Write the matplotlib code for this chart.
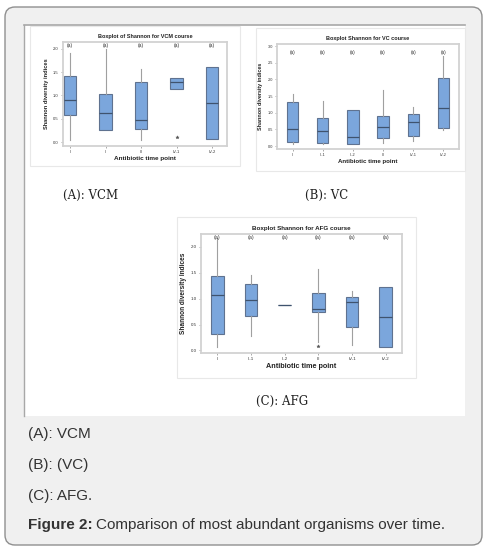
import matplotlib.pyplot as plt
from matplotlib.patches import FancyBboxPatch, Rectangle

W, H = 493, 557

# (A) VCM course
vcm_labels = ["I", "II", "III", "IV-1", "IV-2"]
vcm_q1 = [0.58, 0.26, 0.29, 1.15, 0.06]
vcm_med = [0.90, 0.62, 0.47, 1.29, 0.84]
vcm_q3 = [1.41, 1.03, 1.29, 1.38, 1.61]
vcm_lo = [0.04, 0.26, 0.05, 1.15, 0.06]
vcm_hi = [1.91, 2.00, 1.56, 1.38, 1.61]
vcm_out = [[], [], [], [0.11], []]

# (B) VC course
vc_labels = ["I", "II-1", "II-2", "III", "IV-1", "IV-2"]
vc_q1 = [0.11, 0.10, 0.05, 0.25, 0.30, 0.53]
vc_med = [0.50, 0.46, 0.27, 0.58, 0.72, 1.13]
vc_q3 = [1.31, 0.85, 1.07, 0.91, 0.95, 2.05]
vc_lo = [0.05, 0.05, 0.05, 0.08, 0.16, 0.48]
vc_hi = [1.56, 1.36, 1.07, 1.68, 1.18, 2.71]
vc_out = [[], [], [], [], [], []]

# (C) AFG course
afg_labels = ["I", "II-1", "II-2", "III", "IV-1", "IV-2"]
afg_q1 = [0.32, 0.67, 0.88, 0.74, 0.45, 0.06]
afg_med = [1.08, 0.97, 0.88, 0.81, 0.93, 0.64]
afg_q3 = [1.43, 1.28, 0.88, 1.11, 1.03, 1.22]
afg_lo = [0.06, 0.28, 0.88, 0.17, 0.10, 0.06]
afg_hi = [2.17, 1.46, 0.88, 1.57, 1.14, 1.22]
afg_out = [[], [], [], [0.08], [], []]

group_letter = "(a)"

BOX_FILL = "#7ba6dc"
BOX_EDGE = "#5f7290"
GRID_GREY = "#d2d2d2"
PLOT_FONT = "Liberation Sans"

fig = plt.figure(figsize=(W / 100, H / 100), dpi=100)

# page background drawn in pixel units
bg = fig.add_axes([0, 0, 1, 1])
bg.set_xlim(0, W)
bg.set_ylim(H, 0)
bg.axis("off")
bg.add_patch(FancyBboxPatch((5, 7), 477, 538, boxstyle="round,pad=0,rounding_size=10",
                            facecolor="#f0f0f0", edgecolor="#8f8f8f", lw=1.0))
bg.add_patch(Rectangle((24, 25), 441, 391, facecolor="white", edgecolor="none"))
bg.plot([24, 465], [25, 25], color="#a8a8a8", lw=1.2)
bg.plot([24, 24], [25, 416], color="#a8a8a8", lw=1.0)
for x0, y0, w, h in [(30, 26, 210, 140), (256, 28, 209, 143), (177, 217, 239, 161)]:
    bg.add_patch(Rectangle((x0, y0), w, h, facecolor="white", edgecolor="#e8e8e8", lw=0.8))

bg.text(91, 195, "(A): VCM", family="DejaVu Serif", fontsize=8.5, ha="center", va="center", color="#222222")
bg.text(327, 195, "(B): VC", family="DejaVu Serif", fontsize=8.5, ha="center", va="center", color="#222222")
bg.text(282, 401, "(C): AFG", family="DejaVu Serif", fontsize=8.5, ha="center", va="center", color="#222222")

cap_font = dict(family="Liberation Sans", fontsize=11, color="#333333", va="center")
bg.text(28, 434, "(A): VCM", **cap_font)
bg.text(28, 465, "(B): (VC)", **cap_font)
bg.text(28, 496, "(C): AFG.", **cap_font)
t = bg.text(28, 525, "Figure 2:", fontweight="bold", **cap_font)
fig.canvas.draw()
bb = t.get_window_extent()
x_after = bb.x1 + 3
bg.text(x_after, 525, "Comparison of most abundant organisms over time.", **cap_font)


def px_axes(x0, y0, x1, y1):
    return fig.add_axes([x0 / W, 1 - y1 / H, (x1 - x0) / W, (y1 - y0) / H])


def boxpanel(ax, labels, q1, med, q3, lo, hi, out, title, yticks, ylim, xlim, letter_y,
             fs_tick, fs_title, fs_lab, width):
    stats = []
    for i in range(len(labels)):
        stats.append(dict(q1=q1[i], med=med[i], q3=q3[i], whislo=lo[i], whishi=hi[i],
                          fliers=out[i]))
    pos = list(range(1, len(labels) + 1))
    ax.bxp(stats, positions=pos, widths=width, patch_artist=True, showcaps=False,
           boxprops=dict(facecolor=BOX_FILL, edgecolor=BOX_EDGE, lw=0.8),
           medianprops=dict(color="#3f536e", lw=0.9),
           whiskerprops=dict(color="#a0a0a0", lw=0.8),
           flierprops=dict(marker="*", markersize=2.5, markerfacecolor="#555555",
                           markeredgecolor="#555555", markeredgewidth=0.3))
    for p in pos:
        ax.text(p, letter_y, group_letter, ha="center", va="center", fontsize=fs_tick + 0.6,
                family=PLOT_FONT, color="#333333")
    ax.set_xlim(*xlim)
    ax.set_ylim(*ylim)
    ax.set_yticks(yticks)
    ax.set_yticklabels([f"{v:.1f}" for v in yticks])
    ax.set_xticks(pos)
    ax.set_xticklabels(labels)
    for lbl in ax.get_xticklabels() + ax.get_yticklabels():
        lbl.set_family(PLOT_FONT)
        lbl.set_fontsize(fs_tick)
        lbl.set_color("#333333")
    ax.tick_params(length=1.5, width=0.5, color="#888888", pad=1.5)
    for s in ax.spines.values():
        s.set_color(GRID_GREY)
        s.set_linewidth(1.3)
    ax.set_title(title, family=PLOT_FONT, fontsize=fs_title, fontweight="bold", pad=3,
                 color="#222222")
    ax.set_xlabel("Antibiotic time point", family=PLOT_FONT, fontsize=fs_lab,
                  fontweight="bold", labelpad=1.5, color="#222222")
    ax.set_ylabel("Shannon diversity indices", family=PLOT_FONT, fontsize=fs_lab - 0.5,
                  fontweight="bold", labelpad=3, color="#222222")


ax_a = px_axes(63, 42, 227, 146)
boxpanel(ax_a, vcm_labels, vcm_q1, vcm_med, vcm_q3, vcm_lo, vcm_hi, vcm_out,
         "Boxplot of Shannon for VCM course", [0.0, 0.5, 1.0, 1.5, 2.0],
         (-0.086, 2.15), (0.8, 5.42), 2.08, 3.0, 4.0, 4.6, 0.36)

ax_b = px_axes(277, 44, 459, 149)
boxpanel(ax_b, vc_labels, vc_q1, vc_med, vc_q3, vc_lo, vc_hi, vc_out,
         "Boxplot Shannon for VC course", [0.0, 0.5, 1.0, 1.5, 2.0, 2.5, 3.0],
         (-0.09, 3.06), (0.48, 6.52), 2.80, 2.8, 4.0, 4.4, 0.37)

ax_c = px_axes(201, 234, 402, 353)
boxpanel(ax_c, afg_labels, afg_q1, afg_med, afg_q3, afg_lo, afg_hi, afg_out,
         "Boxplot Shannon for AFG course", [0.0, 0.5, 1.0, 1.5, 2.0],
         (-0.05, 2.25), (0.52, 6.48), 2.18, 3.2, 4.5, 5.2, 0.38)

fig.savefig("out.png", dpi=100)
